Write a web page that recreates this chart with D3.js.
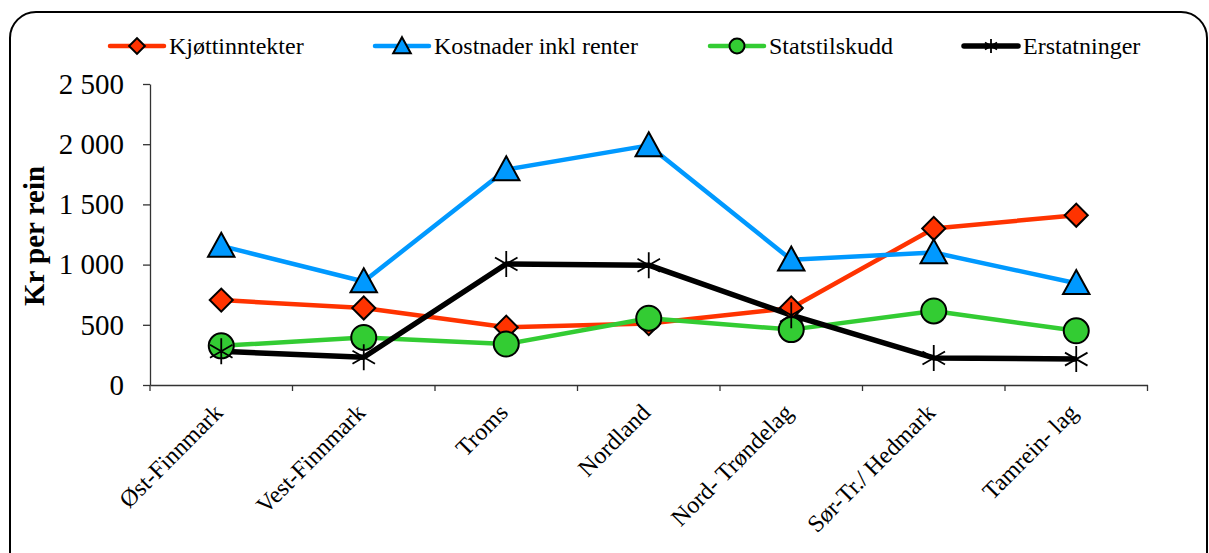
<!DOCTYPE html>
<html>
<head>
<meta charset="utf-8">
<title>Kr per rein</title>
<script src="https://d3js.org/d3.v7.min.js"></script>
<style>
body { margin: 0; background: #fff; }
svg text { font-family: "Liberation Serif", "DejaVu Serif", serif; fill: #000; }
.axis path, .axis line { stroke: #333; stroke-width: 1.3; }
</style>
</head>
<body>
<svg id="chart" width="1209" height="553"></svg>
<script>
// data
const regions = ["Øst-Finnmark", "Vest-Finnmark", "Troms", "Nordland", "Nord- Trøndelag", "Sør-Tr./ Hedmark", "Tamrein- lag"];
const kjott = [705, 640, 480, 510, 640, 1300, 1410];
const kostnader = [1155, 860, 1790, 1990, 1040, 1100, 845];
const statstilskudd = [325, 395, 340, 555, 460, 615, 450];
const erstatninger = [280, 230, 1005, 995, 580, 225, 215];
const yTicks = [0, 500, 1000, 1500, 2000, 2500];

const series = [
  { name: "Kjøttinntekter", values: kjott, color: "#FF3300", marker: "diamond", width: 4.5 },
  { name: "Kostnader inkl renter", values: kostnader, color: "#0099FF", marker: "triangle", width: 4.5 },
  { name: "Statstilskudd", values: statstilskudd, color: "#33CC33", marker: "circle", width: 4.5 },
  { name: "Erstatninger", values: erstatninger, color: "#000000", marker: "star", width: 5.5 }
];

const serif = "'Liberation Serif', 'DejaVu Serif', serif";
const svg = d3.select("#chart");

// frame
svg.append("rect")
  .attr("x", 10).attr("y", 12)
  .attr("width", 1197).attr("height", 600)
  .attr("rx", 26).attr("ry", 26)
  .attr("fill", "none").attr("stroke", "#000").attr("stroke-width", 2);

const plotLeft = 150, plotRight = 1147.5, plotTop = 84, plotBottom = 385;

const x = d3.scaleBand().domain(regions).range([plotLeft, plotRight]);
const y = d3.scaleLinear().domain([0, 2500]).range([plotBottom, plotTop]);

const fmt = v => d3.format(",")(v).replace(",", " ");

// y axis
const yAxis = svg.append("g")
  .attr("class", "axis")
  .attr("transform", `translate(${plotLeft},0)`)
  .call(d3.axisLeft(y).tickValues(yTicks).tickFormat(fmt).tickSize(7).tickSizeOuter(0).tickPadding(19));
yAxis.attr("font-family", null);
yAxis.selectAll("text").style("font-family", serif).style("font-size", "29px");

// x axis
const xAxis = svg.append("g")
  .attr("class", "axis")
  .attr("transform", `translate(0,${plotBottom})`)
  .call(d3.axisBottom(x).tickSize(0).tickSizeOuter(0).tickFormat(""));
xAxis.selectAll(".tick").remove();
xAxis.selectAll(".sep")
  .data(d3.range(regions.length + 1))
  .enter().append("line")
  .attr("class", "sep")
  .attr("x1", i => plotLeft + i * x.bandwidth())
  .attr("x2", i => plotLeft + i * x.bandwidth())
  .attr("y1", 0).attr("y2", 6)
  .attr("stroke", "#333").attr("stroke-width", 1.3);

// category labels
svg.append("g").selectAll("text")
  .data(regions)
  .enter().append("text")
  .attr("text-anchor", "end")
  .style("font-family", serif)
  .style("font-size", "24px")
  .attr("transform", d => `translate(${x(d) + x.bandwidth() / 2 + 3},${plotBottom + 29}) rotate(-45)`)
  .text(d => d);

// y title
svg.append("text")
  .attr("transform", `translate(44,236) rotate(-90)`)
  .attr("text-anchor", "middle")
  .style("font-family", serif)
  .style("font-size", "29px")
  .style("font-weight", "bold")
  .text("Kr per rein");

function drawMarker(g, type, color, size) {
  if (type === "diamond") {
    g.append("path").attr("d", d3.symbol(d3.symbolSquare, size * size * 0.55)())
      .attr("transform", "rotate(45)")
      .attr("fill", color).attr("stroke", "#000").attr("stroke-width", 2);
  } else if (type === "triangle") {
    const s = size;
    g.append("path")
      .attr("d", `M0,${-s * 0.55}L${s * 0.55},${s * 0.45}L${-s * 0.55},${s * 0.45}Z`)
      .attr("fill", color).attr("stroke", "#000").attr("stroke-width", 2);
  } else if (type === "circle") {
    g.append("circle").attr("r", size / 2)
      .attr("fill", color).attr("stroke", "#000").attr("stroke-width", 2);
  } else if (type === "star") {
    const r = size / 2;
    const p = [];
    [0, 60, 120].forEach(a => {
      const t = (a + 30) * Math.PI / 180;
      p.push(`M${-r * Math.cos(t)},${-r * Math.sin(t)}L${r * Math.cos(t)},${r * Math.sin(t)}`);
    });
    p.push(`M0,${-r}L0,${r}`);
    g.append("path").attr("d", p.join("")).attr("stroke", "#000").attr("stroke-width", 1.8).attr("fill", "none");
  }
}

const line = d3.line()
  .x((d, i) => x(regions[i]) + x.bandwidth() / 2)
  .y(d => y(d));

const markerSize = { diamond: 22, triangle: 24, circle: 25, star: 26 };

series.forEach(s => {
  svg.append("path")
    .datum(s.values)
    .attr("d", line)
    .attr("fill", "none")
    .attr("stroke", s.color)
    .attr("stroke-width", s.width)
    .attr("stroke-linejoin", "round");
});
series.forEach(s => {
  s.values.forEach((v, i) => {
    const g = svg.append("g")
      .attr("transform", `translate(${x(regions[i]) + x.bandwidth() / 2},${y(v)})`);
    drawMarker(g, s.marker, s.color, markerSize[s.marker]);
  });
});

// legend
const legendPos = [110, 375, 710, 964];
series.forEach((s, i) => {
  const g = svg.append("g").attr("transform", `translate(${legendPos[i]},46)`);
  g.append("line").attr("x1", 0).attr("x2", 54).attr("y1", 0).attr("y2", 0)
    .attr("stroke", s.color).attr("stroke-width", s.width).attr("stroke-linecap", "round");
  const m = g.append("g").attr("transform", "translate(27,0)");
  const small = { diamond: 15, triangle: 16, circle: 15, star: 14 };
  drawMarker(m, s.marker, s.color, small[s.marker]);
  g.append("text").attr("x", 59).attr("y", 8)
    .style("font-family", serif).style("font-size", "24px")
    .text(s.name);
});
</script>
</body>
</html>
